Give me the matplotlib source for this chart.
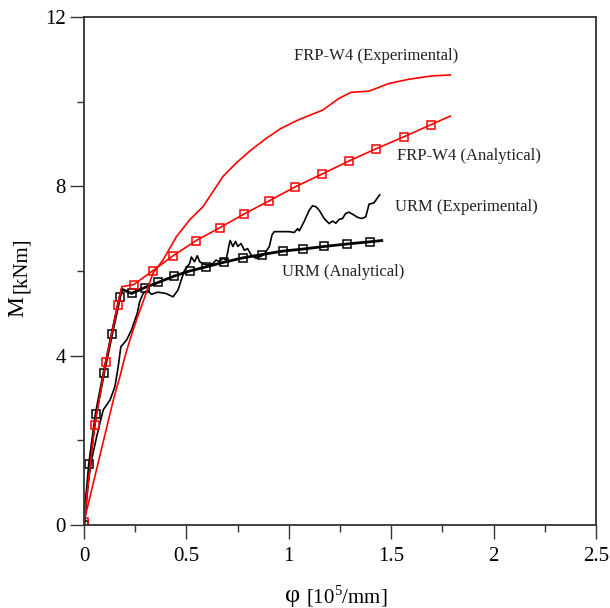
import matplotlib
matplotlib.use('Agg')
import matplotlib.pyplot as plt
from matplotlib.ticker import MultipleLocator

plt.rcParams['font.family'] = ['Liberation Serif', 'DejaVu Serif']
plt.rcParams['mathtext.fontset'] = 'custom'
plt.rcParams['mathtext.rm'] = 'Liberation Serif'

# FRP-W4 analytical (red, squares)
frp_an_x = [0.0, 0.052, 0.106, 0.165, 0.185, 0.243, 0.337, 0.435, 0.548, 0.662, 0.783,
            0.905, 1.032, 1.162, 1.294, 1.427, 1.562, 1.695, 1.789]
frp_an_y = [0.08, 2.36, 3.85, 5.20, 5.63, 5.68, 6.01, 6.36, 6.72, 7.02, 7.35,
            7.66, 7.99, 8.29, 8.60, 8.89, 9.17, 9.46, 9.66]
frp_an_marks = [0, 1, 2, 3, 5, 6, 7, 8, 9, 10, 11, 12, 13, 14, 15, 16, 17]

# FRP-W4 experimental (red line)
frp_ex_x = [0.0, 0.143, 0.175, 0.2, 0.224, 0.256, 0.297, 0.337, 0.386, 0.451, 0.516,
            0.581, 0.629, 0.678, 0.743, 0.816, 0.889, 0.962, 1.051, 1.165, 1.246,
            1.303, 1.392, 1.489, 1.586, 1.7, 1.789]
frp_ex_y = [0.08, 2.95, 3.50, 3.98, 4.37, 4.84, 5.39, 5.95, 6.26, 6.81, 7.21,
            7.52, 7.87, 8.23, 8.55, 8.86, 9.13, 9.37, 9.58, 9.80, 10.08,
            10.22, 10.25, 10.43, 10.53, 10.61, 10.63]

# URM analytical (black, squares)
urm_an_x = [0.0, 0.026, 0.058, 0.097, 0.136, 0.175, 0.185, 0.232, 0.297, 0.362, 0.44,
            0.516, 0.597, 0.686, 0.775, 0.870, 0.970, 1.071, 1.173, 1.286, 1.395, 1.454]
urm_an_y = [0.0, 1.44, 2.62, 3.60, 4.51, 5.38, 5.57, 5.47, 5.61, 5.73, 5.88,
            6.00, 6.10, 6.21, 6.31, 6.39, 6.47, 6.52, 6.58, 6.64, 6.69, 6.72]
urm_an_marks = [0, 1, 2, 3, 4, 5, 7, 8, 9, 10, 11, 12, 13, 14, 15, 16, 17, 18, 19, 20]

# URM experimental (black line)
urm_ex_x = [0.0, 0.013, 0.037, 0.062, 0.078, 0.094, 0.127, 0.151, 0.167, 0.18, 0.208,
            0.232, 0.26, 0.272, 0.289, 0.308, 0.33, 0.36, 0.40, 0.435, 0.459, 0.475,
            0.491, 0.516, 0.524, 0.540, 0.553, 0.565, 0.581, 0.605, 0.630, 0.645,
            0.661, 0.678, 0.694, 0.707, 0.714, 0.727, 0.740, 0.751, 0.767, 0.783,
            0.799, 0.816, 0.84, 0.865, 0.881, 0.905, 0.918, 0.929, 1.002, 1.027,
            1.043, 1.051, 1.059, 1.075, 1.1, 1.116, 1.132, 1.148, 1.173, 1.197,
            1.213, 1.230, 1.246, 1.262, 1.278, 1.294, 1.319, 1.335, 1.356, 1.376,
            1.392, 1.416, 1.432, 1.444]
urm_ex_y = [0.0, 0.76, 1.54, 2.09, 2.41, 2.72, 2.95, 3.27, 3.74, 4.21, 4.37,
            4.61, 5.0, 5.28, 5.47, 5.54, 5.45, 5.50, 5.47, 5.39, 5.55, 5.79,
            6.02, 6.18, 6.33, 6.22, 6.36, 6.22, 6.17, 6.14, 6.18, 6.26,
            6.22, 6.30, 6.26, 6.58, 6.72, 6.58, 6.70, 6.58, 6.65, 6.49,
            6.53, 6.38, 6.30, 6.35, 6.40, 6.58, 6.85, 6.93, 6.93, 6.91,
            7.0, 6.95, 7.02, 7.17, 7.44, 7.54, 7.52, 7.44, 7.24, 7.12,
            7.18, 7.13, 7.22, 7.24, 7.36, 7.39, 7.32, 7.27, 7.24, 7.28,
            7.58, 7.61, 7.72, 7.80]

labels = ['FRP-W4 (Experimental)', 'FRP-W4 (Analytical)', 'URM (Experimental)', 'URM (Analytical)']
label_x = [1.027, 1.528, 1.517, 0.967]
label_y = [11.08, 8.72, 7.52, 5.98]

fig = plt.figure(figsize=(6.1, 6.08), dpi=100)
ax = fig.add_axes([0.1377, 0.1365, 0.8393, 0.8355])

ax.plot(urm_ex_x, urm_ex_y, color='black', lw=1.2)
ax.plot(urm_an_x, urm_an_y, color='black', lw=2.0, marker='s', markersize=6,
        markerfacecolor='none', markeredgewidth=1.1, markevery=urm_an_marks)
ax.plot(frp_ex_x, frp_ex_y, color='#ff0000', lw=1.2)
ax.plot(frp_an_x, frp_an_y, color='#ff0000', lw=1.2, marker='s', markersize=5.5,
        markerfacecolor='none', markeredgewidth=1.1, markevery=frp_an_marks)

for t, x, y in zip(labels, label_x, label_y):
    ax.text(x, y, t, fontsize=12, ha='left', va='center', color='#222222')

ax.set_xlim(0, 2.5)
ax.set_ylim(0, 12)
ax.xaxis.set_major_locator(MultipleLocator(0.5))
ax.xaxis.set_minor_locator(MultipleLocator(0.25))
ax.yaxis.set_major_locator(MultipleLocator(4))
ax.yaxis.set_minor_locator(MultipleLocator(2))
ax.set_xticks([0, 0.5, 1, 1.5, 2, 2.5])
ax.set_xticklabels(['0', '0.5', '1', '1.5', '2', '2.5'])
ax.tick_params(which='major', direction='out', length=10, width=1.0, labelsize=15,
               color='#333333', pad=6)
ax.tick_params(which='minor', direction='out', length=5, width=1.0, color='#333333')
ax.tick_params(axis='y', which='major', pad=3)
for s in ax.spines.values():
    s.set_color('#333333')
    s.set_linewidth(1.3)

fig.text(0.493, 0.02, 'φ', fontsize=19, ha='right', va='center')
fig.text(0.502, 0.02, '[10$^{5}$/mm]', fontsize=15, ha='left', va='center')
fig.text(0.029, 0.495, 'M', fontsize=17, rotation=90, ha='center', va='center')
fig.text(0.035, 0.518, '[kNm]', fontsize=15, rotation=90, ha='center', va='bottom')

fig.savefig('out.png', dpi=100)
